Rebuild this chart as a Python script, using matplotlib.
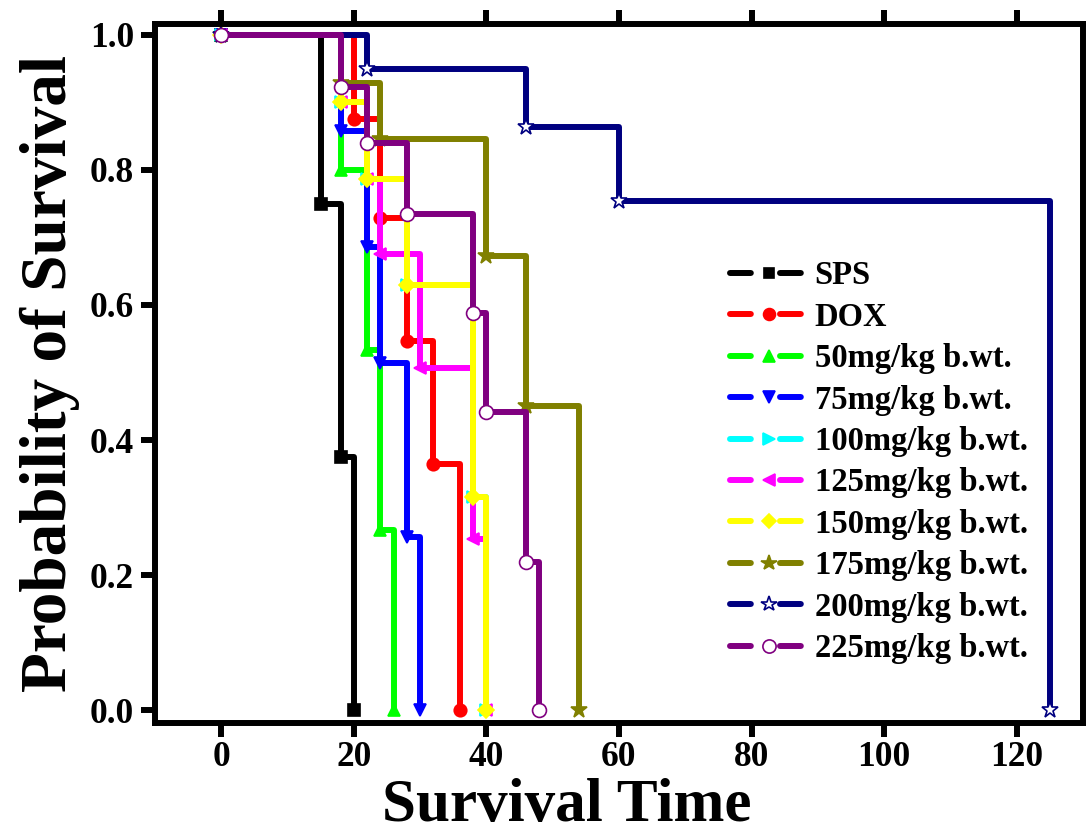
import matplotlib
matplotlib.use('Agg')
import matplotlib.pyplot as plt
from matplotlib.lines import Line2D

# Curvas de supervivencia (Kaplan-Meier)
t_sps = [0, 15, 18, 20]
s_sps = [1.0, 0.75, 0.375, 0.0]

t_dox = [0, 20, 24, 28, 32, 36]
s_dox = [1.0, 0.875, 0.729, 0.547, 0.365, 0.0]

t_50 = [0, 18, 22, 24, 26]
s_50 = [1.0, 0.8, 0.533, 0.267, 0.0]

t_75 = [0, 18, 22, 24, 28, 30]
s_75 = [1.0, 0.857, 0.686, 0.514, 0.257, 0.0]

t_100 = [0, 18, 22, 28, 38, 40]
s_100 = [1.0, 0.9, 0.787, 0.63, 0.315, 0.0]

t_125 = [0, 18, 22, 24, 30, 38, 40]
s_125 = [1.0, 0.9, 0.787, 0.675, 0.506, 0.253, 0.0]

t_150 = [0, 18, 22, 28, 38, 40]
s_150 = [1.0, 0.9, 0.787, 0.63, 0.315, 0.0]

t_175 = [0, 18, 24, 40, 46, 54]
s_175 = [1.0, 0.928, 0.846, 0.673, 0.45, 0.0]

t_200 = [0, 22, 46, 60, 125]
s_200 = [1.0, 0.95, 0.864, 0.754, 0.0]

t_225 = [0, 18, 22, 28, 38, 40, 46, 48]
s_225 = [1.0, 0.923, 0.84, 0.735, 0.588, 0.441, 0.22, 0.0]

etiquetas = ['SPS', 'DOX', '50mg/kg b.wt.', '75mg/kg b.wt.', '100mg/kg b.wt.',
             '125mg/kg b.wt.', '150mg/kg b.wt.', '175mg/kg b.wt.',
             '200mg/kg b.wt.', '225mg/kg b.wt.']
colores = ['#000000', '#FF0000', '#00FF00', '#0000FF', '#00FFFF',
           '#FF00FF', '#FFFF00', '#808000', '#000080', '#800080']
marcadores = ['s', 'o', '^', 'v', '>', '<', 'D', '*', '*', 'o']
tamanos = [8, 9, 9, 9, 9, 9, 8, 12, 12, 10]
rellenos = ['#000000', '#FF0000', '#00FF00', '#0000FF', '#00FFFF',
            '#FF00FF', '#FFFF00', '#808000', 'white', 'white']

series = [(t_sps, s_sps), (t_dox, s_dox), (t_50, s_50), (t_75, s_75),
          (t_100, s_100), (t_125, s_125), (t_150, s_150), (t_175, s_175),
          (t_200, s_200), (t_225, s_225)]


def graficar():
    plt.rcParams['font.family'] = ['Liberation Serif', 'DejaVu Serif']
    plt.rcParams['font.weight'] = 'bold'
    plt.rcParams['lines.scale_dashes'] = False

    fig = plt.figure(figsize=(10.87, 8.34), dpi=100)
    ax = fig.add_axes([0.1426, 0.1331, 0.8537, 0.8381])
    lw = 4.3

    handles = []
    for (t, s), lab, c, m, ms, fc in zip(series, etiquetas, colores, marcadores, tamanos, rellenos):
        ax.step(t, s, where='post', color=c, lw=lw, marker=m, markersize=ms,
                markerfacecolor=fc, markeredgecolor=c, markeredgewidth=1.2,
                solid_joinstyle='round', solid_capstyle='round')
        handles.append(Line2D([0], [0], color=c, lw=lw, linestyle=(0, (15, 21, 15, 10)),
                              dash_capstyle='round', marker=m, markersize=ms * 0.95,
                              markerfacecolor=fc, markeredgecolor=c, markeredgewidth=1.2))

    ax.set_xlim(-10, 130)
    ax.set_ylim(-0.019, 1.016)
    ax.set_xticks([0, 20, 40, 60, 80, 100, 120])
    ax.set_yticks([0.0, 0.2, 0.4, 0.6, 0.8, 1.0])
    ax.set_yticklabels(['0.0', '0.2', '0.4', '0.6', '0.8', '1.0'])

    for sp in ax.spines.values():
        sp.set_linewidth(lw)
    ax.tick_params(axis='both', direction='out', length=10, width=lw, labelsize=25.5)
    ax.tick_params(axis='x', top=True, pad=3)
    ax.tick_params(axis='y', right=False, pad=5)

    ax.set_xlabel('Survival Time', fontsize=44, fontweight='bold')
    ax.set_ylabel('Probability of Survival', fontsize=47, fontweight='bold')
    ax.xaxis.set_label_coords(0.444, -0.0787)
    ax.yaxis.set_label_coords(-0.081, 0.5)

    leg = fig.legend(handles=handles, labels=etiquetas, loc='upper left',
                     bbox_to_anchor=(0.6716, 0.688), frameon=False, fontsize=23.5,
                     handlelength=2.39, handletextpad=0.2, labelspacing=0.32,
                     borderpad=0, borderaxespad=0, numpoints=1)
    for txt in leg.get_texts():
        txt.set_fontweight('bold')

    fig.savefig('out.png', dpi=100)


if __name__ == '__main__':
    graficar()
